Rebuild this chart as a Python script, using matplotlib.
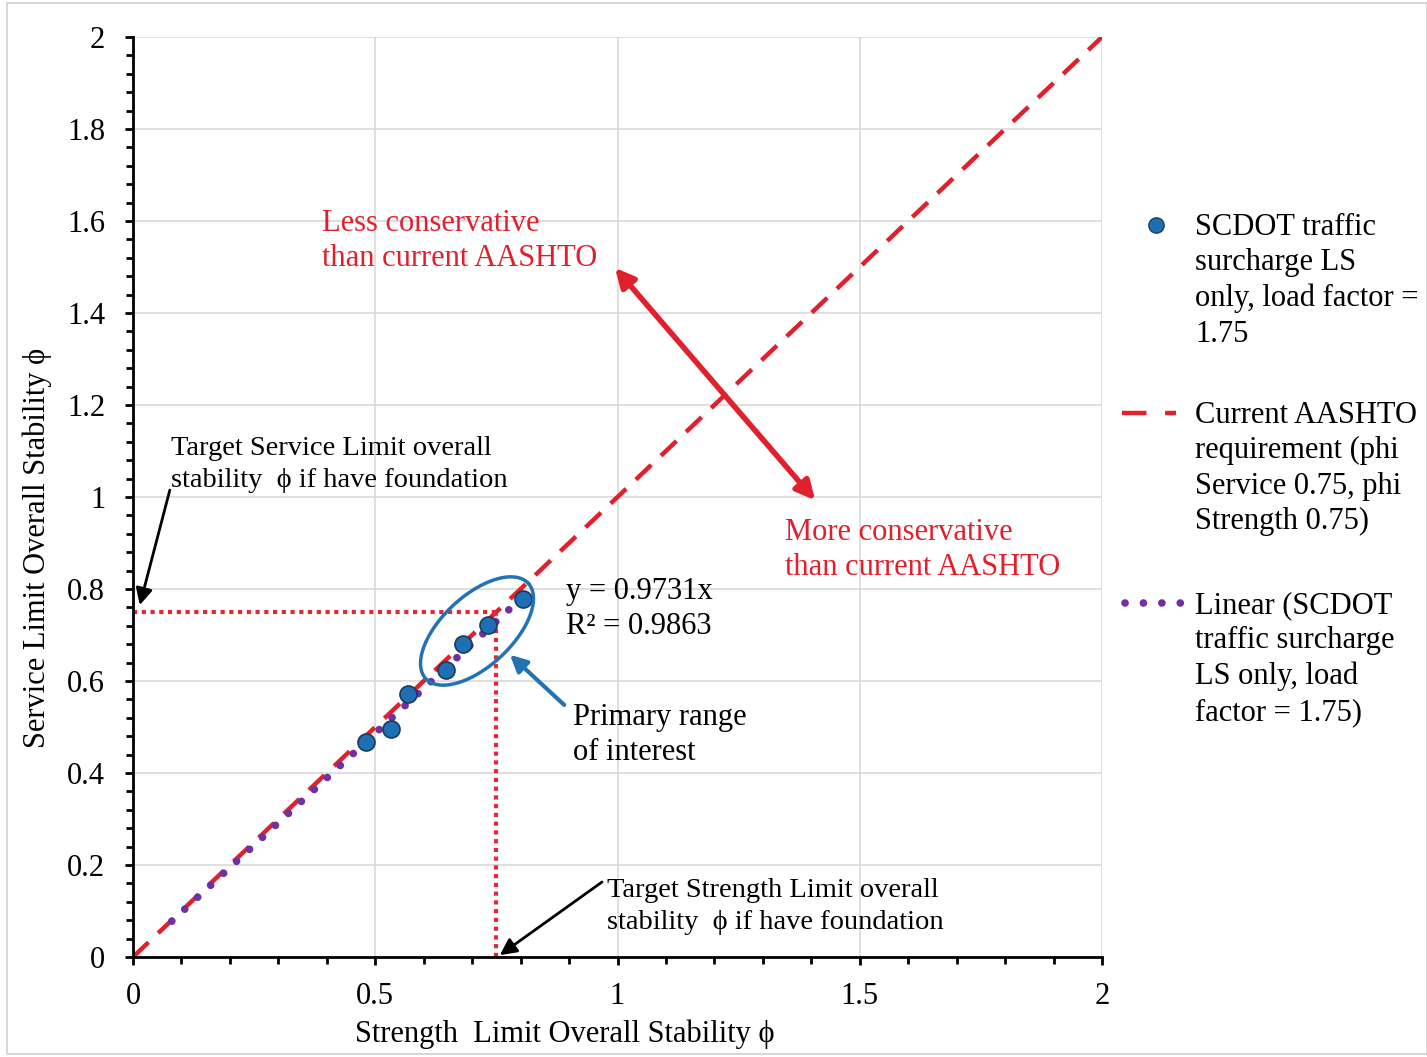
import numpy as np
import matplotlib
matplotlib.use("Agg")
import matplotlib.pyplot as plt
from matplotlib.lines import Line2D
from matplotlib.patches import Rectangle

plt.rcParams['font.family'] = ['Liberation Serif', 'DejaVu Serif']
plt.rcParams['font.size'] = 22

# ---- data ----
strength_phi = [0.481, 0.532, 0.567, 0.646, 0.682, 0.733, 0.804]
service_phi = [0.468, 0.495, 0.571, 0.625, 0.680, 0.722, 0.778]
trend_slope = 0.9731
trend_r2 = 0.9863
trend_x = [0.08, 0.80]
aashto_x = [0.0, 2.0]
aashto_y = [0.0, 2.0]
target_phi = 0.75
x_ticks = [0, 0.5, 1, 1.5, 2]
y_ticks = [0, 0.2, 0.4, 0.6, 0.8, 1, 1.2, 1.4, 1.6, 1.8, 2]

RED = '#E0202C'
RED_DOT = '#E02A36'
PURPLE = '#7030A0'
BLUE = '#1F6FB5'
BLUE_EDGE = '#1B3A5C'
ELL_BLUE = '#2272B4'

W, H = 1427, 1057
fig = plt.figure(figsize=(W / 100, H / 100), dpi=100)
ax = fig.add_axes([133 / W, 1 - 957 / H, (1102 - 133) / W, (957 - 37) / H])

ax.set_xlim(0, 2)
ax.set_ylim(0, 2)
ax.set_xticks(x_ticks)
ax.set_xticklabels([f"{v:g}" for v in x_ticks])
ax.set_yticks(y_ticks)
ax.set_yticklabels([f"{v:g}" for v in y_ticks])
ax.set_xticks(np.arange(0, 2.0001, 0.1), minor=True)
ax.set_yticks(np.arange(0, 2.0001, 0.04), minor=True)
ax.grid(True, which='major', color='#D9D9D9', linewidth=1.2, zorder=0)
ax.set_axisbelow(True)
for s in ['top', 'right']:
    ax.spines[s].set_visible(False)
for s in ['left', 'bottom']:
    ax.spines[s].set_linewidth(2)
    ax.spines[s].set_color('black')
ax.tick_params(which='major', direction='out', length=6, width=2, pad=12, labelsize=22, colors='black')
ax.tick_params(which='minor', direction='out', length=5, width=2)
ax.tick_params(axis='y', which='major', pad=14)

# AASHTO line
ax.plot(aashto_x, aashto_y, color=RED, linewidth=3.2, dashes=(4.8, 3.0), zorder=2)
# target dotted lines
ax.plot([0, target_phi], [target_phi, target_phi], color=RED_DOT, linewidth=3,
        linestyle=(0, (1, 1.1)), zorder=2)
ax.plot([target_phi, target_phi], [0, target_phi], color=RED_DOT, linewidth=3,
        linestyle=(0, (1, 1.1)), zorder=2)
# trend line
tx = np.array(trend_x)
ax.plot(tx, trend_slope * tx, color=PURPLE, linewidth=5.5, dashes=(0.01, 2.3),
        dash_capstyle='round', zorder=3)
# points
ax.scatter(strength_phi, service_phi, s=150, color=BLUE, edgecolor=BLUE_EDGE,
           linewidth=1.2, zorder=4)

# ellipse (pixel-sized shape converted to data units)
px_per_x = (1102 - 133) / 2.0
px_per_y = (957 - 37) / 2.0
cx, cy = (477 - 133) / px_per_x, (957 - 631) / px_per_y
a, b = 70, 35
ang = np.deg2rad(43)
t = np.linspace(0, 2 * np.pi, 200)
ex = a * np.cos(t) * np.cos(ang) - b * np.sin(t) * np.sin(ang)
ey = a * np.cos(t) * np.sin(ang) + b * np.sin(t) * np.cos(ang)
ax.plot(cx + ex / px_per_x, cy + ey / px_per_y, color=ELL_BLUE, linewidth=2.5, zorder=5)

# arrows
ax.annotate('', xy=(0.995, 1.498), xytext=(1.408, 0.993),
            arrowprops=dict(arrowstyle='<|-|>', color=RED, lw=4, mutation_scale=28,
                            shrinkA=0, shrinkB=0), zorder=6)
ax.annotate('', xy=(0.778, 0.657), xytext=(0.890, 0.548),
            arrowprops=dict(arrowstyle='-|>', color=ELL_BLUE, lw=3, mutation_scale=25,
                            shrinkA=0, shrinkB=0), zorder=6)
ax.annotate('', xy=(0.014, 0.765), xytext=(0.076, 1.015),
            arrowprops=dict(arrowstyle='-|>', color='black', lw=2, mutation_scale=25,
                            shrinkA=0, shrinkB=0), zorder=6)
ax.annotate('', xy=(0.757, 0.004), xytext=(0.968, 0.163),
            arrowprops=dict(arrowstyle='-|>', color='black', lw=2, mutation_scale=25,
                            shrinkA=0, shrinkB=0), zorder=6)

# texts
ls = 1.27
ax.text(0.390, 1.626, 'Less conservative\nthan current AASHTO', color=RED, ha='left', va='top',
        fontsize=22, linespacing=ls, zorder=7)
ax.text(1.346, 0.954, 'More conservative\nthan current AASHTO', color=RED, ha='left', va='top',
        fontsize=22, linespacing=ls, zorder=7)
ax.text(0.894, 0.826, f'y = {trend_slope}x\nR² = {trend_r2}', color='black', ha='left', va='top',
        fontsize=22, linespacing=ls, zorder=7)
ax.text(0.908, 0.552, 'Primary range\nof interest', color='black', ha='left', va='top',
        fontsize=22, linespacing=ls, zorder=7)
ax.text(0.078, 1.133, 'Target Service Limit overall\nstability  ϕ if have foundation',
        color='black', ha='left', va='top', fontsize=20.5, linespacing=1.36, zorder=7)
ax.text(0.978, 0.171, 'Target Strength Limit overall\nstability  ϕ if have foundation',
        color='black', ha='left', va='top', fontsize=20.5, linespacing=1.36, zorder=7)

# axis labels
ax.set_xlabel('Strength  Limit Overall Stability ϕ', fontsize=22)
ax.xaxis.set_label_coords((565 - 133) / 969, (957 - 1034) / 920)
ax.xaxis.label.set_va('center')
ax.set_ylabel('Service Limit Overall Stability ϕ', fontsize=22)
ax.yaxis.set_label_coords((37 - 133) / 969, (957 - 548) / 920)
ax.yaxis.label.set_va('center')

# legend (manual, handle aligned with first line of each entry)
def fx(px):
    return px / W

def fy(py):
    return 1 - py / H

fig.add_artist(Line2D([fx(1156)], [fy(225)], marker='o', markersize=11, color=BLUE,
                      markeredgecolor=BLUE_EDGE, markeredgewidth=1.0, linestyle='none'))
fig.add_artist(Line2D([fx(1122), fx(1176)], [fy(413), fy(413)], color=RED, linewidth=3.2,
                      dashes=(5.5, 4.2)))
fig.add_artist(Line2D([fx(1125), fx(1183)], [fy(603), fy(603)], color=PURPLE, linewidth=5.5,
                      dashes=(0.01, 2.4), dash_capstyle='round'))
legend_texts = [
    ('SCDOT traffic\nsurcharge LS\nonly, load factor =\n1.75', 225),
    ('Current AASHTO\nrequirement (phi\nService 0.75, phi\nStrength 0.75)', 413),
    ('Linear (SCDOT\ntraffic surcharge\nLS only, load\nfactor = 1.75)', 603),
]
for txt, ypx in legend_texts:
    fig.text(fx(1195), fy(ypx - 12), txt, ha='left', va='top', fontsize=22, linespacing=1.29)

# outer border
fig.add_artist(Rectangle((fx(7), fy(1054)), fx(1427 - 7), fy(3) - fy(1054),
                         fill=False, edgecolor='#D0D0D0', linewidth=1.2))

fig.savefig('out.png', dpi=100)
